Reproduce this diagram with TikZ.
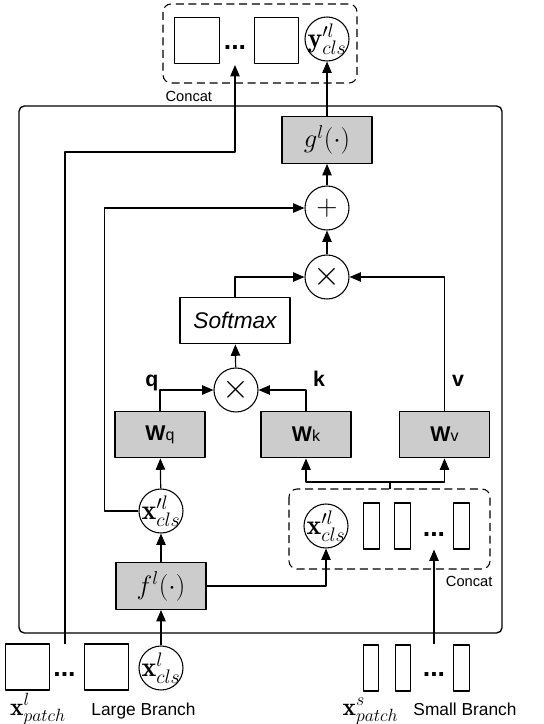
\RequirePackage{fix-cm}
\documentclass[tikz,border=0pt]{standalone}
\usepackage{fontspec}
\setsansfont{Liberation Sans}
\usetikzlibrary{arrows.meta}

\newcommand{\fsz}[1]{\fontsize{#1}{#1}\selectfont}

\tikzset{
    graybox/.style={draw, line width=0.9pt, fill=gray!40, minimum width=67.5pt, minimum height=35pt, inner sep=0pt},
    whitebox/.style={draw, line width=0.9pt, fill=white, minimum width=82.5pt, minimum height=35pt, inner sep=0pt},
    tok/.style={circle, draw, line width=0.8pt, minimum size=33pt, inner sep=0pt, label={[font=\fsz{21}]center:#1}},
    patch/.style={draw, line width=0.8pt, minimum width=33.5pt, minimum height=34.5pt, inner sep=0pt},
    bar/.style={draw, line width=0.8pt, minimum width=11.5pt, minimum height=34.5pt, inner sep=0pt},
    dots/.style={font=\sffamily\bfseries\fsz{20}, inner sep=0pt},
    concatbox/.style={dash pattern=on 6pt off 3.5pt, line width=0.8pt, rounded corners=6pt},
    vec/.style={font=\sffamily\bfseries\fsz{16}, anchor=base, inner sep=0pt},
}
\newcommand{\wlab}[1]{{\bfseries\fsz{16}W}{\fsz{12}#1}}

\begin{document}
\begin{tikzpicture}[x=0.75pt, y=-0.75pt, font=\sffamily, line join=round,
        >={Triangle[length=8.5pt,width=7pt]}, every path/.style={line width=0.9pt}]
    \useasboundingbox (0,0) rectangle (543,724);
    % outer block
    \draw[line width=1pt, rounded corners=4pt] (19,106) rectangle (502,633);

    % output tokens
    \draw[concatbox] (163,4) rectangle (357,83);
    \node[patch] (ysq1) at (197,40.5) {};
    \node[dots] (ydots) at (235,48) {...};
    \node[patch] (ysq2) at (276.5,40.5) {};
    \node[tok={$\mathbf{y}'^{l}_{cls}$}] (ycls) at (327,39) {};
    \node[anchor=west, font=\sffamily\fsz{11}, inner sep=0pt] (ytxt) at (165,96) {Concat};

    % attention
    \node[graybox, font=\fsz{20}] (g) at (327,140) {$g^{l}(\cdot)$};
    \node[tok={\fsz{22}+}] (plus) at (327,208) {};
    \node[tok={\fsz{26}$\times$}] (times) at (327,277) {};
    \node[whitebox, font=\sffamily\itshape\fsz{17}] (soft) at (235,320.5) {Softmax};
    \node[tok={\fsz{26}$\times$}] (qk) at (236,390) {};
    \node[graybox] (wq) at (160,434.5) {\wlab{q}};
    \node[graybox] (wk) at (306,434.5) {\wlab{k}};
    \node[graybox] (wv) at (444.5,434.5) {\wlab{v}};
    \node[vec] (qlab) at (152,386) {q};
    \node[vec] (klab) at (319,386) {k};
    \node[vec] (vlab) at (458,386) {v};

    % cls token and small branch concat
    \node[tok={$\mathbf{x}'^{l}_{cls}$}] (xcls) at (161,511) {};
    \draw[concatbox] (289,489) rectangle (490,569);
    \node[tok={$\mathbf{x}'^{l}_{cls}$}] (xcat) at (326,526) {};
    \foreach \i/\x in {1/371.5, 2/402.5, 3/461.5}
        \node[bar] (cbar\i) at (\x,526) {};
    \node[dots] (cdots) at (434,535) {...};
    \node[anchor=east, font=\sffamily\fsz{11}, inner sep=0pt] (ctxt) at (493,581) {Concat};
    \coordinate (ctop) at (390,489);
    \coordinate (split) at (390,482);
    \node[graybox, font=\fsz{20}] (f) at (161,586) {$f^{l}(\cdot)$};

    % inputs
    \node[patch] (lsq1) at (27.5,667) {};
    \node[dots] (ldots) at (64.5,675) {...};
    \node[patch] (lsq2) at (106.5,667) {};
    \node[tok={$\mathbf{x}^{l}_{cls}$}] (xl) at (161,668) {};
    \foreach \i/\x in {1/371, 2/403, 3/461.5}
        \node[bar] (sbar\i) at (\x,668) {};
    \node[dots] (sdots) at (434,675) {...};
    \node[anchor=base, font=\fsz{19}, inner sep=0pt] (lname) at (38,715) {$\mathbf{x}^{l}_{patch}$};
    \node[anchor=base, font=\sffamily\fsz{13}, inner sep=0pt] (ltxt) at (143.5,715) {Large Branch};
    \node[anchor=base, font=\fsz{19}, inner sep=0pt] (sname) at (370.5,715) {$\mathbf{x}^{s}_{patch}$};
    \node[anchor=base, font=\sffamily\fsz{13}, inner sep=0pt] (stxt) at (465,715) {Small Branch};
    \coordinate (skip) at (65,644);
    \coordinate (yin) at (235,65);

    % connectors
    \draw[->] (xl) -- (f);
    \draw[->] (f) -- (xcls);
    \draw[->] (xcls) -- (wq);
    \draw[->] (f.east) -| (xcat.south);
    \draw[->] (sdots |- sbar1.north) -- (cdots |- cbar1.south);
    \draw (ctop) -- (split);
    \draw[->] (split) -| (wk.south);
    \draw[->] (split) -| (wv.south);
    \draw[->] (wq.north) |- (qk.west);
    \draw[->] (wk.north) |- (qk.east);
    \draw[->] (qk) -- (soft);
    \draw[->] (soft.north) |- (times.west);
    \draw[->] (wv.north) |- (times.east);
    \draw[->] (times) -- (plus);
    \draw[->] (xcls.west) -- ++(-34,0) |- (plus.west);
    \draw[->] (plus) -- (g);
    \draw[->] (g) -- (ycls);
    \draw[->] (skip) -- (65,152) -| (yin);
\end{tikzpicture}
\end{document}
